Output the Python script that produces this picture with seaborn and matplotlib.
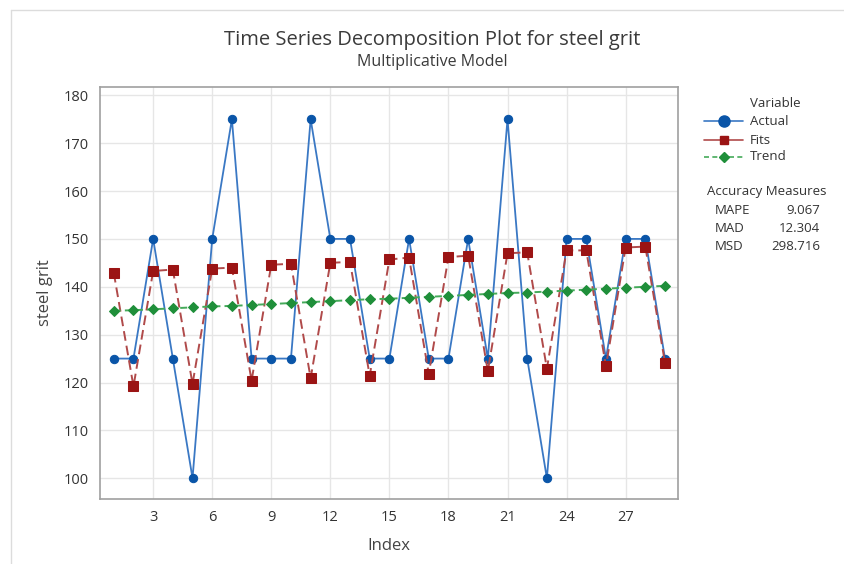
import matplotlib
matplotlib.use("Agg")
import matplotlib.pyplot as plt
from matplotlib.lines import Line2D
import numpy as np
import pandas as pd
import seaborn as sns

# Series values
index = list(range(1, 30))
actual = [125, 125, 150, 125, 100, 150, 175, 125, 125, 125,
          175, 150, 150, 125, 125, 150, 125, 125, 150, 125,
          175, 125, 100, 150, 150, 125, 150, 150, 125]
fits = [142.9, 119.2, 143.3, 143.6, 119.7, 143.8, 144.0, 120.4, 144.6, 144.8,
        120.9, 145.0, 145.2, 121.4, 145.7, 146.1, 121.8, 146.2, 146.5, 122.4,
        147.0, 147.2, 122.9, 147.6, 147.6, 123.4, 148.2, 148.4, 124.1]
trend = [135.0, 135.1, 135.3, 135.5, 135.7, 135.9, 136.0, 136.2, 136.4, 136.6,
         136.8, 137.0, 137.2, 137.4, 137.5, 137.7, 137.9, 138.1, 138.3, 138.5,
         138.7, 138.8, 139.0, 139.2, 139.4, 139.6, 139.8, 140.0, 140.2]

x_ticks = [3, 6, 9, 12, 15, 18, 21, 24, 27]
y_ticks = [100, 110, 120, 130, 140, 150, 160, 170, 180]

measure_names = ["MAPE", "MAD", "MSD"]
measure_values = ["9.067", "12.304", "298.716"]

df = pd.DataFrame({"Index": index, "Actual": actual, "Fits": fits, "Trend": trend})

sns.set_style("white")
plt.rcParams["font.family"] = ["Open Sans", "DejaVu Sans"]

TEXT = "#333333"
BLUE_M, BLUE_L = "#0a55a8", "#3a78c4"
RED_M, RED_L = "#9b1414", "#b04a4a"
GREEN_M, GREEN_L = "#1f8f3a", "#45aa5a"

FITS_DASH = (0, (5.0, 2.6))
TREND_DASH = (0, (3.6, 2.1))

fig = plt.figure(figsize=(8.44, 5.64), dpi=100)
ax = fig.add_axes([100 / 844, 1 - 499.3 / 564, 578 / 844, 412.6 / 564])

sns.lineplot(data=df, x="Index", y="Actual", ax=ax, color=BLUE_L, lw=1.3,
             marker="o", markersize=6, markerfacecolor=BLUE_M,
             markeredgecolor=BLUE_M, zorder=3)
sns.lineplot(data=df, x="Index", y="Fits", ax=ax, color=RED_L, lw=1.4,
             linestyle=FITS_DASH, marker="s", markersize=6.5,
             markerfacecolor=RED_M, markeredgecolor=RED_M, zorder=4)
sns.lineplot(data=df, x="Index", y="Trend", ax=ax, color=GREEN_L, lw=1.4,
             linestyle=TREND_DASH, marker="D", markersize=4.6,
             markerfacecolor=GREEN_M, markeredgecolor=GREEN_M, zorder=5)

ax.set_xlim(0.3, 29.66)
ax.set_ylim(95.6, 181.8)
ax.set_xticks(x_ticks)
ax.set_yticks(y_ticks)
ax.grid(True, color="#e6e6e6", lw=1.0, zorder=0)
ax.set_axisbelow(True)
for s in ax.spines.values():
    s.set_color("#a0a0a0")
    s.set_linewidth(1.2)
ax.tick_params(axis="both", direction="out", length=5, width=1, color="#a0a0a0",
               labelsize=10.5, labelcolor=TEXT, pad=3)
ax.set_xlabel("Index", fontsize=12, color="#444444", labelpad=9)
ax.set_ylabel("steel grit", fontsize=12, color="#444444", labelpad=8)

fig.text(0.512, 1 - 40 / 564, "Time Series Decomposition Plot for steel grit",
         ha="center", va="center", fontsize=14.5, color="#3a3a3a")
fig.text(0.512, 1 - 62 / 564, "Multiplicative Model",
         ha="center", va="center", fontsize=11.5, color="#3a3a3a")

# Legend drawn by hand in figure pixel coordinates
def fx(px):
    return px / 844

def fy(py):
    return 1 - py / 564

fig.text(fx(750), fy(103), "Variable", ha="left", va="center", fontsize=9.5, color=TEXT)
rows = [
    ("Actual", BLUE_L, BLUE_M, "o", 8, "-", 121),
    ("Fits", RED_L, RED_M, "s", 6, "-", 140),
    ("Trend", GREEN_L, GREEN_M, "D", 5, (0, (3, 2)), 157),
]
for name, lc, mc, mk, ms, ls, py in rows:
    fig.add_artist(Line2D([fx(704), fx(743)], [fy(py), fy(py)], color=lc, lw=1.2,
                          linestyle=ls, transform=fig.transFigure))
    fig.add_artist(Line2D([fx(723.5)], [fy(py)], marker=mk, markersize=ms,
                          markerfacecolor=mc, markeredgecolor=mc, linestyle="none",
                          transform=fig.transFigure))
    fig.text(fx(750), fy(py), name, ha="left", va="center", fontsize=9.5, color=TEXT)

fig.text(fx(707), fy(192), "Accuracy Measures", ha="left", va="center",
         fontsize=9.5, color=TEXT)
for i, (n, v) in enumerate(zip(measure_names, measure_values)):
    py = 210 + 18 * i
    fig.text(fx(715), fy(py), n, ha="left", va="center", fontsize=9.5, color=TEXT)
    fig.text(fx(820), fy(py), v, ha="right", va="center", fontsize=9.5, color=TEXT)

# Light outer frame lines
fig.add_artist(Line2D([fx(11), fx(11)], [fy(10), 0], color="#dcdcdc", lw=1,
                      transform=fig.transFigure))
fig.add_artist(Line2D([fx(11), 1], [fy(10), fy(10)], color="#dcdcdc", lw=1,
                      transform=fig.transFigure))

fig.savefig("out.png", dpi=100, facecolor="white")
